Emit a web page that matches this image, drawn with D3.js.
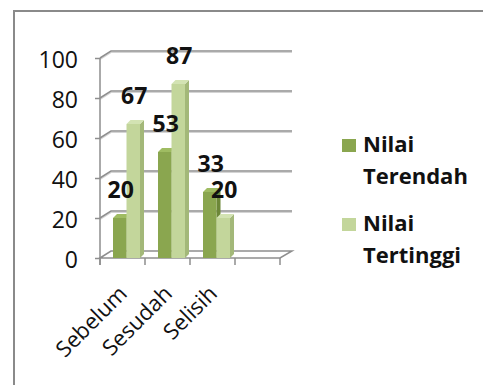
<!DOCTYPE html>
<html>
<head>
<meta charset="utf-8">
<script src="https://cdn.jsdelivr.net/npm/d3@7"></script>
<style>
  body { margin: 0; background: #fff; }
  text { font-family: "Open Sans", "DejaVu Sans", sans-serif; fill: #111; }
</style>
</head>
<body>
<svg id="chart" width="483" height="385"></svg>
<script>
// Categories (the fourth slot of the floor is left empty)
const categories = ["Sebelum", "Sesudah", "Selisih", ""];
const seriesNames = ["Nilai Terendah", "Nilai Tertinggi"];
const nilaiTerendah = [20, 53, 33];
const nilaiTertinggi = [67, 87, 20];
const yTicks = [0, 20, 40, 60, 80, 100];

const seriesValues = [nilaiTerendah, nilaiTertinggi];
const frontColors = ["#8aa64f", "#c3d69b"];
const sideColors  = ["#6c8738", "#a3b879"];
const topColors   = ["#9fbc62", "#d3e3b3"];

const svg = d3.select("#chart");

// Outer chart frame (right and bottom run past the page)
svg.append("path")
  .attr("d", "M14,385 V11 H483")
  .attr("fill", "none").attr("stroke", "#8a8a8a").attr("stroke-width", 2);

// Plot geometry: front plane plus a receding depth offset
const x0 = 100, x1 = 280;
const depthX = 11, depthY = 7;

const x = d3.scaleBand().domain(categories).range([x0, x1]).paddingInner(0).paddingOuter(0);
const y = d3.scaleLinear().domain([0, 100]).range([258, 58]);
const xSub = d3.scaleBand().domain(seriesNames).range([13, 40]);

const gridColor = "#8e8e8e";
const grid = svg.append("g");

// Back wall gridlines with their side-wall diagonals
yTicks.forEach(t => {
  const yf = y(t);
  if (t > 0) {
    grid.append("path")
      .attr("d", `M${x0},${yf} L${x0 + depthX},${yf - depthY} H${x1 + depthX + 1}`)
      .attr("fill", "none").attr("stroke", "#d4d4d4").attr("stroke-width", 1.2)
      .attr("transform", "translate(0,1.5)");
    grid.append("path")
      .attr("d", `M${x0},${yf} L${x0 + depthX},${yf - depthY} H${x1 + depthX + 1}`)
      .attr("fill", "none").attr("stroke", gridColor).attr("stroke-width", 1.5);
  }
});

// Floor outline
const yb = y(0);
grid.append("path")
  .attr("d", `M${x0},${yb} L${x0 + depthX},${yb - depthY} H${x1 + depthX + 1} L${x1},${yb} Z`)
  .attr("fill", "none").attr("stroke", gridColor).attr("stroke-width", 1.5);

// Vertical value axis with left ticks
const yAxis = d3.axisLeft(y).tickValues(yTicks).tickSize(5).tickPadding(17);
const yg = svg.append("g").attr("transform", `translate(${x0},0)`).call(yAxis);
yg.select(".domain").attr("d", `M0,${y(100)} V${yb + 7}`).attr("stroke", gridColor).attr("stroke-width", 1.5);
yg.selectAll(".tick line").attr("stroke", gridColor).attr("stroke-width", 1.5);
yg.selectAll(".tick text")
  .attr("font-size", 23).attr("font-family", "Open Sans").attr("fill", "#111")
  .attr("dy", "0.42em");

// Category axis: tick marks below the floor edge
const xTickPos = categories.map(c => x(c)).concat([x1]);
svg.append("g").selectAll("line").data(xTickPos).join("line")
  .attr("x1", d => d).attr("x2", d => d)
  .attr("y1", yb).attr("y2", yb + 7)
  .attr("stroke", gridColor).attr("stroke-width", 1.5);

// Rotated category labels
svg.append("g").selectAll("text").data(categories.filter(c => c !== "")).join("text")
  .attr("transform", c => `translate(${x(c) + x.bandwidth() / 2 + 6},${yb + 37}) rotate(-45)`)
  .attr("text-anchor", "end")
  .attr("font-size", 22)
  .text(c => c);

// 3D columns
const bd = 4; // column depth offset
const bars = svg.append("g");
categories.forEach((c, i) => {
  seriesNames.forEach((s, k) => {
    const v = seriesValues[k][i];
    if (v === undefined) return;
    const bx = x(c) + xSub(s);
    const bw = xSub.bandwidth();
    const top = y(v), bot = yb;
    // right side face
    bars.append("path")
      .attr("d", `M${bx + bw},${top} L${bx + bw + bd},${top - bd} V${bot - bd} L${bx + bw},${bot} Z`)
      .attr("fill", sideColors[k]);
    // top face
    bars.append("path")
      .attr("d", `M${bx},${top} L${bx + bd},${top - bd} H${bx + bw + bd} L${bx + bw},${top} Z`)
      .attr("fill", topColors[k]);
    // front face
    bars.append("rect")
      .attr("x", bx).attr("y", top).attr("width", bw).attr("height", bot - top)
      .attr("fill", frontColors[k]);
  });
});

// Value labels
const labels = svg.append("g");
categories.forEach((c, i) => {
  seriesNames.forEach((s, k) => {
    const v = seriesValues[k][i];
    if (v === undefined) return;
    labels.append("text")
      .attr("x", x(c) + xSub(s) + xSub.bandwidth() / 2 + 1)
      .attr("y", y(v) - 20)
      .attr("text-anchor", "middle")
      .attr("font-size", 23).attr("font-weight", "bold")
      .text(v);
  });
});

// Legend
const legend = svg.append("g");
const legendTop = [139, 218];
seriesNames.forEach((s, k) => {
  const g = legend.append("g").attr("transform", `translate(342,${legendTop[k]})`);
  g.append("rect").attr("width", 14).attr("height", 13).attr("fill", frontColors[k]);
  const words = s.split(" ");
  const t = g.append("text").attr("x", 21).attr("y", 13)
    .attr("font-size", 22).attr("font-weight", "bold");
  words.forEach((w, j) => {
    t.append("tspan").attr("x", 21).attr("dy", j === 0 ? 0 : 32).text(w);
  });
});
</script>
</body>
</html>
